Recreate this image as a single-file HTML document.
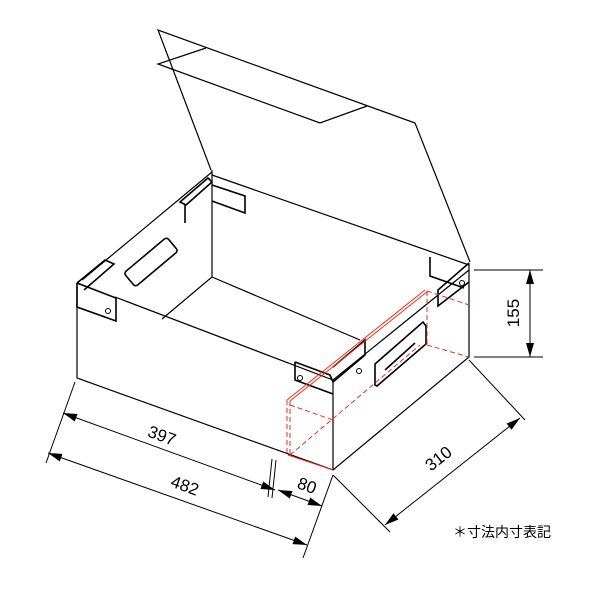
<!DOCTYPE html>
<html><head><meta charset="utf-8"><style>body{margin:0;background:#fff}svg{display:block}</style></head>
<body>
<svg width="600" height="600" viewBox="0 0 600 600" xmlns="http://www.w3.org/2000/svg" font-family="Liberation Sans, sans-serif">
<defs>
<marker id="a" markerWidth="14" markerHeight="8" refX="14" refY="4" orient="auto" markerUnits="userSpaceOnUse"><path d="M0,0 L14,4 L0,8z" fill="#000"/></marker>
<marker id="b" markerWidth="14" markerHeight="8" refX="0" refY="4" orient="auto" markerUnits="userSpaceOnUse"><path d="M14,0 L0,4 L14,8z" fill="#000"/></marker>
</defs>
<g fill="none" stroke="#000" stroke-width="1.2">
<path d="M211,170 L158,30 L415,123 L470,262"/>
<path d="M206,48 L158,64 L320,123 L367,106"/>
<path d="M77,287 L77,378 L333,470 L469,357 L469,263"/>
<path d="M333,470 L333,382"/>
<path d="M212,170 L212,277 L162,319"/>
<path d="M212,277 L360,340"/>
<path d="M212,175 L469,265"/>
<path d="M212,172 L82,280"/>
<path d="M115,297 L333,380 L469,270"/>
</g>
<g fill="none" stroke="#000" stroke-width="1.6">
<path d="M77,283 L77,307 L116,321 L116,298 L77,283 M77,283 L105,260 L114,264 L84,290"/>
<path d="M180,202 L208,178 L212,182 L186,205 Z M185,205 L185,223 M212,185 L245,196 L245,213 L212,201"/>
<path d="M295,362 L295,380 L333,394 M295,362 L330,375 L333,382 L365,355 L365,340 L333,367"/>
<path d="M430,257 L430,276 L464,288 M469,263 L438,290 L438,306 L469,282"/>
<rect x="-28" y="-9" width="56" height="18" rx="3" transform="translate(151,262) rotate(-40)"/>
<path d="M375,385 L375,364 L423,322 L426,326 L426,344 L377,386 Z M385,370 L415,343"/>
</g>
<g fill="none" stroke="#000" stroke-width="1">
<circle cx="108" cy="311" r="2.5"/><circle cx="300" cy="378" r="2.5"/><circle cx="359" cy="371" r="2.5"/><circle cx="462" cy="283" r="2.5"/>
</g>
<g fill="none" stroke="#e8321e" stroke-width="1">
<path d="M287,400 L425,290 M290,401 L428,291"/>
<path d="M287,400 L287,455 M290,401 L290,456" stroke-dasharray="5,3"/>
<path d="M290,405 L333,420 M290,455 L420,345 M427,291 L427,345 M427,345 L469,357 M427,291 L469,305" stroke-dasharray="5,3"/>
<path d="M288,455 L333,470"/>
</g>
<g fill="none" stroke="#000" stroke-width="1">
<path d="M75,382 L46,463 M333,475 L303,558 M469,360 L525,420 M333,475 L390,532"/>
<path d="M474,270 L543,270 M474,357 L543,357"/>
<path d="M272,459 L268,497 M276,460 L272,498"/>
<line x1="63" y1="413" x2="275" y2="490" marker-start="url(#b)" marker-end="url(#a)"/>
<line x1="48" y1="453" x2="307" y2="545" marker-start="url(#b)" marker-end="url(#a)"/>
<line x1="278" y1="490" x2="322" y2="506" marker-start="url(#b)" marker-end="url(#a)"/>
<line x1="385" y1="525" x2="520" y2="418" marker-start="url(#b)" marker-end="url(#a)"/>
<line x1="530" y1="270" x2="530" y2="357" marker-start="url(#b)" marker-end="url(#a)"/>
</g>
<g font-size="17" fill="#000">
<text x="0" y="0" transform="translate(160,441) rotate(20)" text-anchor="middle">397</text>
<text x="0" y="0" transform="translate(183,491) rotate(20)" text-anchor="middle">482</text>
<text x="0" y="0" transform="translate(305,491) rotate(20)" text-anchor="middle">80</text>
<text x="0" y="0" transform="translate(442,463) rotate(-38)" text-anchor="middle">310</text>
<text x="0" y="0" transform="translate(519,313) rotate(-90)" text-anchor="middle">155</text>
</g>
<text x="453" y="537" font-size="14" font-family="Liberation Sans, Noto Sans CJK JP, sans-serif">＊寸法内寸表記</text>
</svg>
</body></html>
